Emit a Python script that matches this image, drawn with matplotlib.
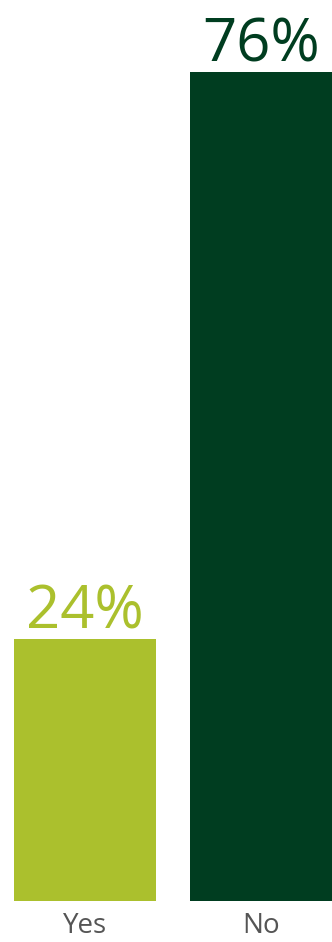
import matplotlib
matplotlib.use("Agg")
import matplotlib.pyplot as plt

categories = ["Yes", "No"]
values = [24, 76]
labels = ["24%", "76%"]
colors = ["#ABC02D", "#003D20"]

plt.rcParams["font.family"] = ["Open Sans", "DejaVu Sans"]

fig = plt.figure(figsize=(3.32, 9.42), dpi=100)
ax = fig.add_axes([0, 41 / 942, 1, 901 / 942])

x = list(range(len(categories)))
bars = ax.bar(x, values, width=0.807, color=colors)

for rect, lab, col in zip(bars, labels, colors):
    ax.annotate(lab, (rect.get_x() + rect.get_width() / 2, rect.get_height()),
                xytext=(0, 7.5), textcoords="offset points",
                ha="center", va="baseline", fontsize=43, color=col)

ax.set_xlim(-0.483, 1.4035)
ax.set_ylim(0, 82.6)
ax.set_xticks(x)
ax.set_xticklabels(categories, fontsize=20, color="#555555")
ax.tick_params(axis="x", length=0, pad=8)
ax.set_yticks([])
for s in ax.spines.values():
    s.set_visible(False)

fig.savefig("out.png", dpi=100)
